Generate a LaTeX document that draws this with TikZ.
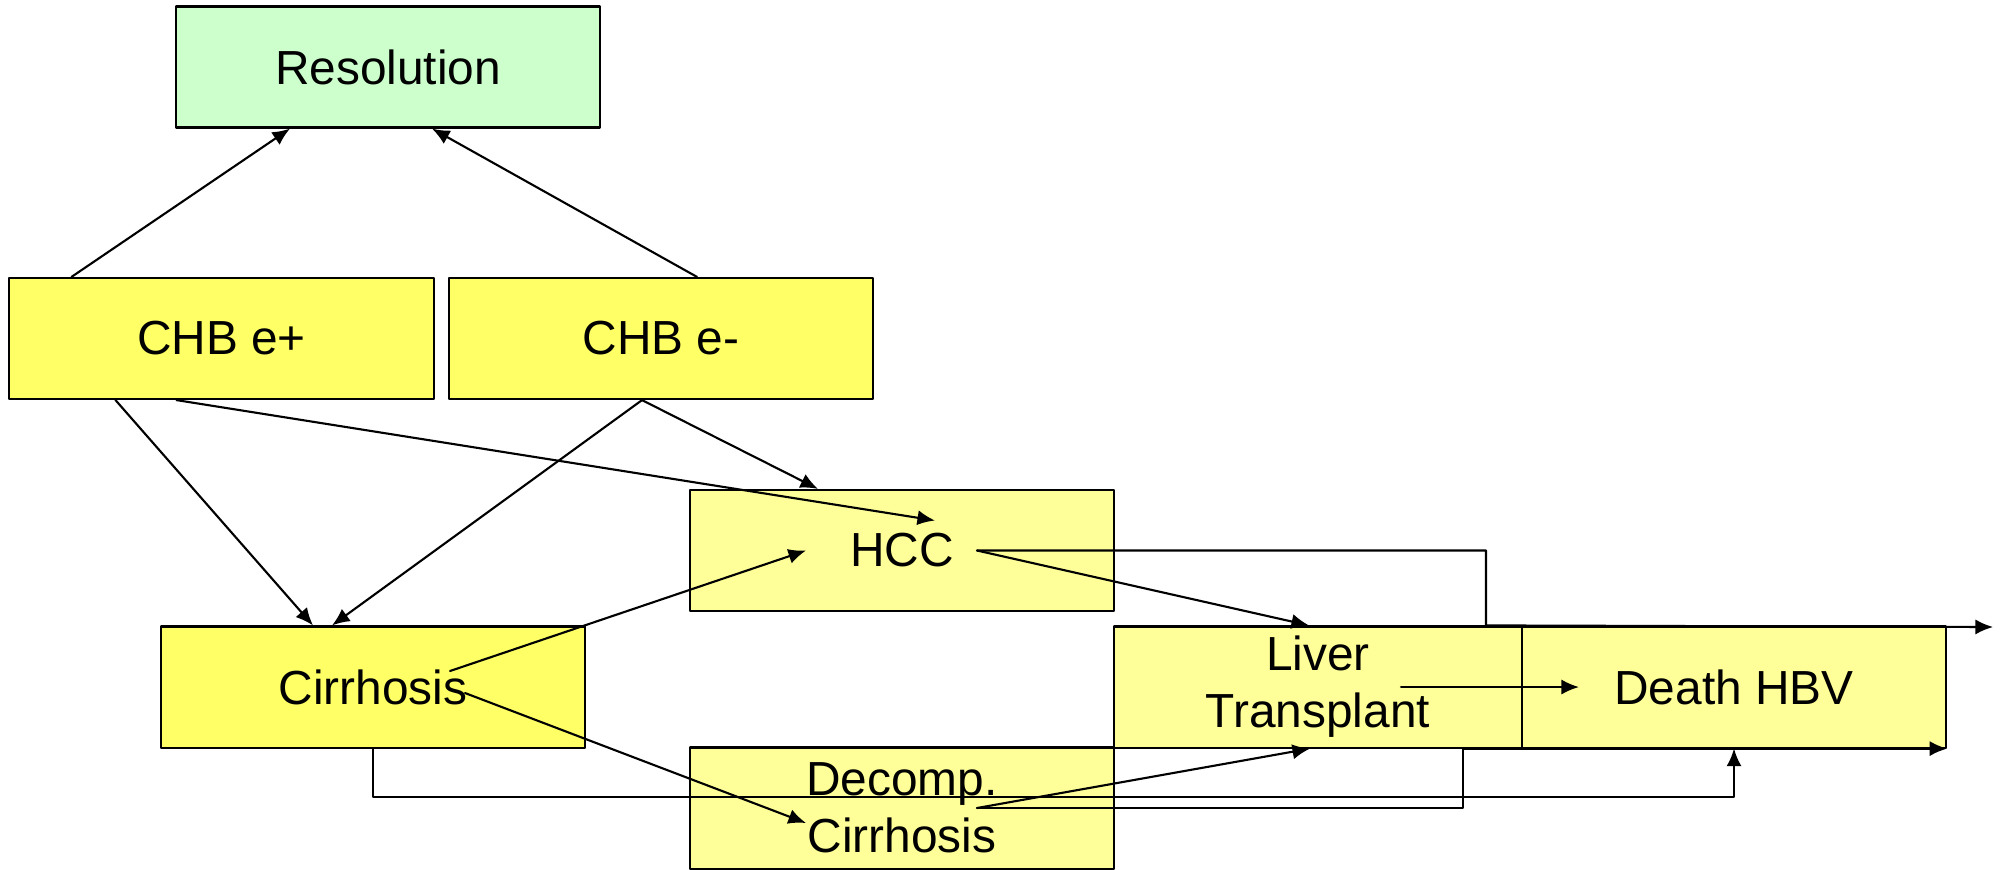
\documentclass[tikz,border=0pt]{standalone}
\usepackage{fontspec}
\setmainfont{Liberation Sans}
\usetikzlibrary{arrows.meta,calc}
\definecolor{resgreen}{HTML}{CCFFCC}
\definecolor{chbyellow}{HTML}{FFFF66}
\definecolor{paleyellow}{HTML}{FFFF99}
\begin{document}
\begin{tikzpicture}[x=0.01cm,y=-0.01cm,line cap=round,line join=round,>={Latex[length=5pt,width=4.3pt]},
	state/.style={draw,line width=0.6pt,minimum width=4.24cm,minimum height=1.21cm,inner sep=0pt,align=center,font=\fontsize{13.6}{16.2}\selectfont},
	link/.style={line width=0.6pt}]
			\useasboundingbox (0,0) rectangle (2001,869);
			% states
			\node[state,fill=resgreen] (res) at (388,67) {Resolution};
			\node[state,fill=chbyellow] (chbp) at (221.5,338.5) {CHB e+};
			\node[state,fill=chbyellow] (chbn) at (661,338.5) {CHB e-};
			\node[state,fill=paleyellow] (hcc) at (902,550.5) {HCC};
			\node[state,fill=chbyellow] (cir) at (373,687) {Cirrhosis};
			\node[state,fill=paleyellow] (dec) at (902,808) {Decomp.\\Cirrhosis};
			\node[state,fill=paleyellow,minimum width=4.08cm] (lt) at (1318,687) {Liver\\Transplant};
			\node[state,fill=paleyellow] (death) at (1734,687) {Death HBV};
			\coordinate (exit) at (1993,627);
			% transitions
			\draw[link,->] ($(chbp.north)+(-150,0)$) -- ($(res.south)+(-98,0)$);
			\draw[link,->] ($(chbn.north)+(36,0)$) -- ($(res.south)+(44,0)$);
			\draw[link,->] ($(chbp.south)+(-106,0)$) -- ($(cir.north)+(-60,0)$);
			\draw[link,->] ($(chbp.south)+(-45,0)$) -- ($(hcc.center)+(33,-30)$);
			\draw[link,->] ($(chbn.south)+(-19,0)$) -- ($(cir.north)+(-41,0)$);
			\draw[link,->] ($(chbn.south)+(-19,0)$) -- ($(hcc.north)+(-84,0)$);
			\draw[link,->] ($(cir.center)+(77,-16)$) -- ($(hcc.center)+(-96,0)$);
			\draw[link,->] ($(cir.center)+(92,6)$) -- ($(dec.center)+(-96,15)$);
			\draw[link,->] ($(hcc.center)+(75,0)$) -- ($(lt.north)+(-9,0)$);
			\draw[link,->] ($(hcc.center)+(75,0)$) -| ($(lt.north)+(168,0)$) -- (exit);
			\draw[link,->] ($(dec.center)+(75,0)$) -- ($(lt.south)+(-8,0)$);
			\draw[link,->] ($(dec.center)+(75,0)$) -| ($(lt.south)+(145,0)$) -- (death.south east);
			\draw[link,->] (cir.south) -- ++(0,48) -| (death.south);
			\draw[link,->] ($(lt.center)+(83,0)$) -- ($(death.center)+(-155,0)$);
		\end{tikzpicture}
\end{document}
